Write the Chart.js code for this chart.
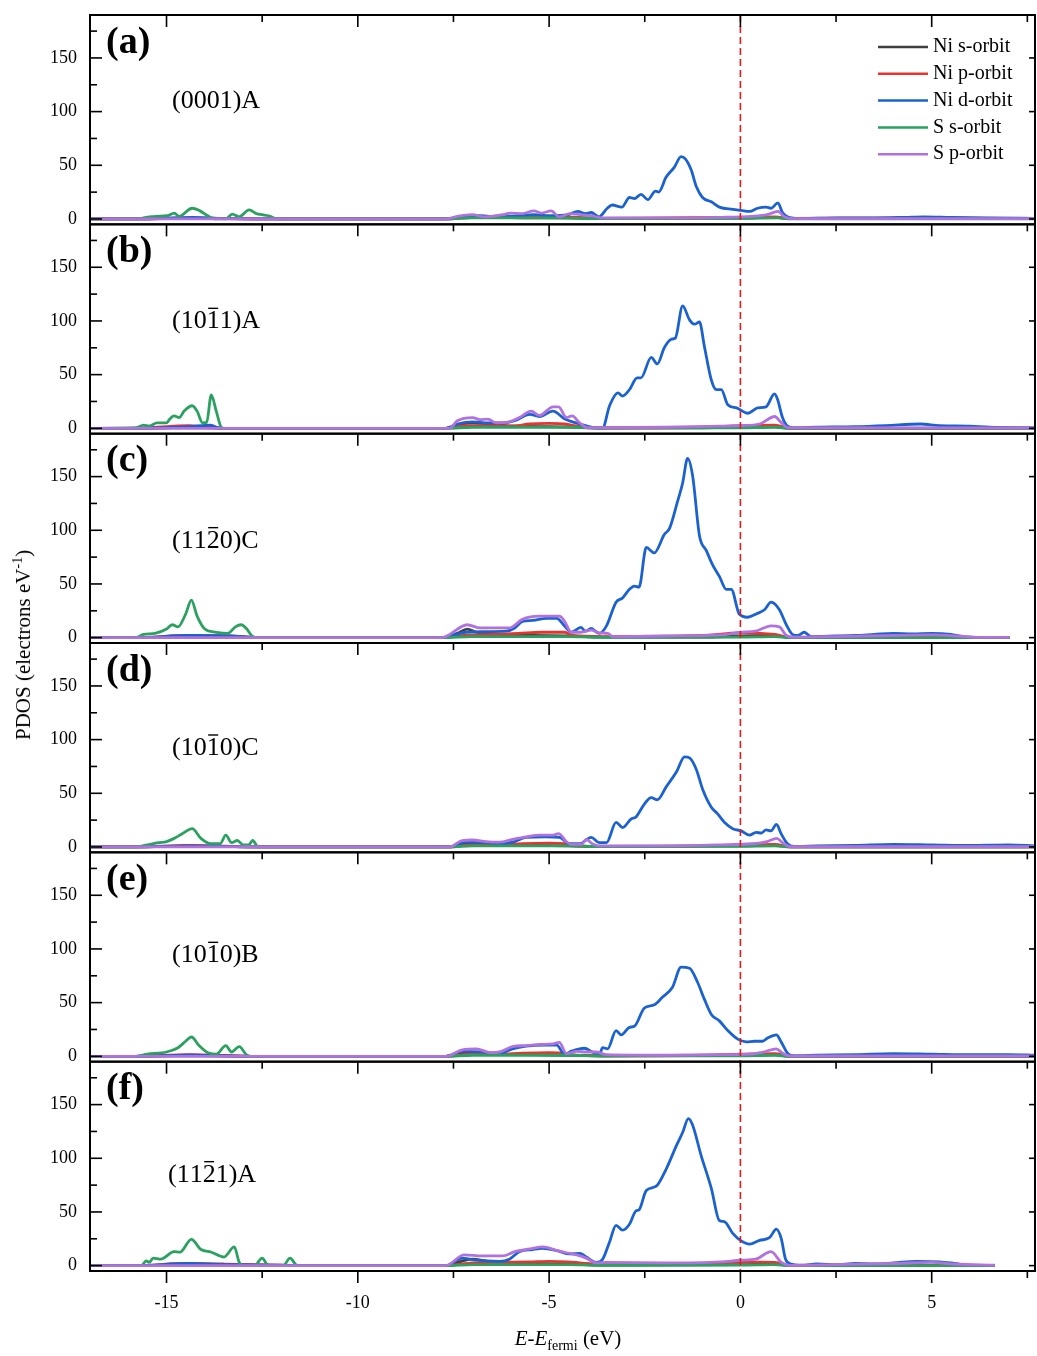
<!DOCTYPE html>
<html lang="en">
<head>
    <meta charset="UTF-8">
    <title>PDOS</title>
    <style>
        body {
            margin: 0;
            padding: 0;
            background-color: #ffffff;
        }

        .wrap {
            position: relative;
            width: 1037px;
            height: 1356px;
        }

        .axis-title {
            position: absolute;
            font-family: 'Liberation Serif', 'Times New Roman', serif;
            font-size: 21px;
            color: #000;
            white-space: nowrap;
        }

        #yTitle {
            left: 23px;
            top: 645px;
            transform: translate(-50%, -50%) rotate(-90deg);
        }

        #xTitle {
            left: 568px;
            top: 1340px;
            transform: translate(-50%, -50%);
        }

        .axis-title sub, .axis-title sup {
            font-size: 14px;
        }
    </style>
</head>
<body>
    <div class="wrap">
        <canvas id="pdos" width="1037" height="1356"></canvas>
        <div class="axis-title" id="yTitle">PDOS (electrons eV<sup>-1</sup>)</div>
        <div class="axis-title" id="xTitle"><i>E</i>-<i>E</i><sub>fermi</sub> (eV)</div>
    </div>

    <script src="https://cdn.jsdelivr.net/npm/chart.js"></script>
    <script>
        // eixos e legendas
        var seriesNames = ['Ni s-orbit', 'Ni p-orbit', 'Ni d-orbit', 'S s-orbit', 'S p-orbit'];
        var xMajor = [-15, -10, -5, 0, 5];
        var xMinor = [-12.5, -7.5, -2.5, 2.5, 7.5];
        var yMajor = [0, 50, 100, 150];
        var yMinor = [25, 75, 125, 175];

        // (a) (0001)A  -- pares [E, PDOS]
        var aNiS = [[-17,0],[-15.8,0],[-15,0.5],[-14.3,1],[-13.5,0.5],[-12.2,0],[-7.7,0],[-7.2,1.5],[-6.5,1.5],[-5.5,1],[-4.5,1],[-3.6,0.5],[-2,0.5],[0,0.8],[0.9,1.5],[1.3,0.3],[3,0.5],[5,0.8],[7.7,0.3]];
        var aNiP = [[-17,0],[-15.8,0],[-14.4,0.8],[-13.5,0.5],[-12.2,0],[-7.7,0],[-7,1.5],[-6,2],[-5,2],[-4.2,1.5],[-3.6,0.5],[-2,1],[0,1.5],[0.9,2],[1.3,0.5],[4,0.8],[7.7,0.3]];
        var aNiD = [[-17,0],[-15.8,0],[-15.2,0.5],[-14.3,1.5],[-13.7,0.5],[-12.2,0],[-7.7,0],[-7.3,2],[-6.8,3],[-6.3,2],[-5.8,3],[-5.4,4],[-5,3],[-4.5,4],[-4.25,7],[-4.05,5],[-3.9,6],[-3.7,2],[-3.48,10],[-3.35,13],[-3.1,11],[-2.9,20],[-2.77,19],[-2.6,23],[-2.42,18],[-2.22,26],[-2.14,25],[-1.94,39],[-1.73,48],[-1.55,58],[-1.44,56],[-1.29,46],[-1.15,30],[-0.99,20],[-0.76,16],[-0.55,11],[-0.2,9],[0.02,8],[0.24,7],[0.45,10],[0.67,11],[0.8,10],[0.98,15],[1.1,6],[1.33,1],[1.6,0.5],[2.5,1],[3.5,1],[4.3,1.5],[4.8,2],[5.5,1.5],[6.5,1],[7.7,0.5]];
        var aSS = [[-17,0],[-15.8,0],[-15.6,1],[-15.45,2],[-15.25,2.5],[-14.98,3],[-14.8,5.5],[-14.67,2.5],[-14.33,10],[-14.15,8],[-13.9,2.5],[-13.75,0],[-13.45,0],[-13.28,4.5],[-13.1,2],[-12.84,8.5],[-12.65,5],[-12.5,4],[-12.33,3],[-12.1,0],[-7.7,0],[-7,1],[-5,1],[-3.6,0.3],[0,0.5],[1,1],[1.3,0],[7.7,0]];
        var aSP = [[-17,0],[-7.7,0],[-7.4,2.5],[-7.0,4],[-6.7,2],[-6.4,3],[-6.2,4],[-6.0,5.5],[-5.7,5],[-5.4,7.5],[-5.2,5.5],[-4.95,7.5],[-4.73,2],[-4.45,5],[-4.2,4],[-3.9,3],[-3.6,1],[-2,1],[-0.5,1.5],[0.3,2.5],[0.7,4],[0.98,7],[1.15,2],[1.35,0.3],[7.7,0.3]];

        // (b) (10-11)A
        var bNiS = [[-17,0],[-15.8,0],[-14.5,1],[-13.7,0.5],[-13.5,0],[-7.7,0],[-7.3,4],[-7,5],[-6.6,4],[-6.3,3],[-5.8,2],[-5,1.5],[-4.2,1],[-3.8,0.3],[-1,0.5],[0,1],[0.9,1.5],[1.3,0],[7.7,0]];
        var bNiP = [[-17,0],[-15.8,0],[-14.4,2.5],[-14,1],[-13.6,0],[-7.7,0],[-7.2,2.5],[-6.5,2.5],[-6,2],[-5.5,4],[-5,4.5],[-4.6,4],[-4.2,1.5],[-3.8,0.5],[-1,1],[0,2.5],[0.9,3],[1.3,0],[7.7,0]];
        var bNiD = [[-17,0],[-15.8,0],[-15,0.5],[-14.4,1.5],[-13.85,3],[-13.6,0],[-7.7,0],[-7.4,4],[-7.0,6],[-6.6,5],[-6.2,5],[-5.9,7],[-5.5,13],[-5.25,11],[-4.9,16],[-4.6,9],[-4.3,5],[-4,2],[-3.75,0.5],[-3.6,0.5],[-3.42,21],[-3.2,33],[-3.08,30],[-2.9,36],[-2.7,47],[-2.6,47],[-2.33,66],[-2.17,60],[-1.99,75],[-1.8,83],[-1.7,84],[-1.51,114],[-1.33,101],[-1.2,97],[-1.07,99],[-0.94,76],[-0.76,45],[-0.63,36],[-0.5,36],[-0.33,22],[-0.1,19],[0.19,14],[0.45,19],[0.67,20],[0.89,32],[0.97,27],[1.1,10],[1.23,2],[1.4,0.5],[2,1],[3,1.5],[3.8,2.5],[4.7,4],[5.2,2.5],[6,2],[6.5,1],[7.7,0.5]];
        var bSS = [[-17,0],[-15.8,0.5],[-15.6,3],[-15.45,2],[-15.25,5],[-15.0,5],[-14.93,8],[-14.8,11.5],[-14.67,10],[-14.54,16],[-14.33,21],[-14.2,16],[-14.06,5],[-13.95,5.5],[-13.83,31],[-13.7,16],[-13.57,1],[-13.5,0],[-7.7,0],[-7,1],[-4.5,1],[-3.8,0.3],[0,0.5],[0.9,1],[1.3,0],[7.7,0]];
        var bSP = [[-17,0],[-7.6,0],[-7.4,7],[-7.0,10],[-6.8,8],[-6.6,8.5],[-6.38,5],[-6.04,6],[-5.78,10],[-5.47,16],[-5.25,12],[-4.9,20],[-4.75,20],[-4.55,10],[-4.4,11.5],[-4.2,5],[-4.0,0.5],[-2,1],[-0.5,2],[0,2.5],[0.5,4],[0.9,11],[1.05,6],[1.25,0.5],[7.7,0.3]];

        // (c) (11-20)C
        var cNiS = [[-17,0],[-15.8,0],[-14.4,1],[-13,0.5],[-12.6,0],[-7.8,0],[-7.4,4],[-7.14,8],[-6.9,5],[-6.5,3],[-5.5,2],[-4.5,1.5],[-3.6,0.5],[-1,0.5],[0,1.5],[0.9,2],[1.3,0],[7.03,0]];
        var cNiP = [[-17,0],[-15.8,0],[-14.4,2],[-13,1],[-12.6,0],[-7.8,0],[-7.2,2],[-6.5,3],[-5.8,4],[-5.2,5],[-4.6,5],[-4.4,2],[-3.6,1],[-1,2],[-0.3,4],[0,4.5],[0.9,3],[1.3,0],[7.03,0]];
        var cNiD = [[-17,0],[-15.8,0],[-14.4,2],[-13,1],[-12.6,0],[-7.8,0],[-7.17,5],[-6.7,5.5],[-6.12,6],[-5.9,9],[-5.7,15],[-5.43,16],[-5.07,18],[-4.8,18],[-4.6,11],[-4.42,5],[-4.17,9.5],[-4.05,6],[-3.9,8.5],[-3.69,4],[-3.5,11],[-3.25,33],[-3.08,37],[-2.9,45],[-2.77,48],[-2.65,47],[-2.46,84],[-2.25,79],[-1.99,96],[-1.85,102],[-1.65,126],[-1.51,144],[-1.38,167],[-1.25,151],[-1.07,95],[-0.89,81],[-0.73,68],[-0.55,57],[-0.37,45],[-0.24,45],[-0.03,22],[0.19,19],[0.41,22],[0.63,26],[0.8,33],[1.02,26],[1.2,12],[1.36,3],[1.5,2],[1.67,5],[1.85,1],[2.5,1.5],[3.0,2],[3.5,3],[4.0,4],[4.5,3.5],[5.0,4],[5.5,3],[5.8,1],[6.2,0.3],[7.03,0.3]];
        var cSS = [[-17,0],[-15.8,0],[-15.6,3],[-15.3,4],[-15.0,8],[-14.85,12],[-14.7,10],[-14.5,22],[-14.35,35],[-14.2,20],[-14.0,8],[-13.7,5],[-13.4,4],[-13.2,10],[-13.05,12],[-12.9,8],[-12.75,1],[-12.6,0],[-7.8,0],[-7,1],[-4.5,1],[-3.6,0.3],[0,0.5],[0.9,1],[1.3,0],[7.03,0]];
        var cSP = [[-17,0],[-7.8,0],[-7.14,12],[-6.8,9],[-6.04,9],[-5.7,17],[-5.25,20],[-4.73,20],[-4.6,15.5],[-4.42,5],[-4.17,5],[-3.9,7],[-3.69,4.5],[-3.47,4],[-3.33,1],[-2,1.5],[-0.5,2.5],[0,5],[0.4,6],[0.8,11],[1.02,10],[1.2,2],[1.4,0.5],[2.5,1],[4,2],[5,2.5],[5.7,1.5],[6.2,0.3],[7.03,0.3]];

        // (d) (10-10)C
        var dNiS = [[-17,0],[-15.8,0],[-14.4,1],[-12.6,0],[-7.6,0],[-7.2,3],[-6.8,3],[-6.3,2],[-5.5,1.5],[-4.5,1],[-3.6,0.5],[0,1],[0.9,1.5],[1.3,0],[7.7,0]];
        var dNiP = [[-17,0],[-15.8,0],[-14.4,1.5],[-12.6,0],[-7.6,0],[-7,2],[-6.3,2],[-5.7,3],[-5,3.5],[-4.6,3],[-4.3,1],[-3.6,0.5],[-1,1],[0,2],[0.9,2.5],[1.3,0],[7.7,0]];
        var dNiD = [[-17,0],[-15.8,0],[-14.4,1],[-13.5,0.5],[-12.6,0],[-7.6,0],[-7.17,4.5],[-6.6,4],[-6.3,3],[-5.9,5],[-5.6,9],[-5.1,9.5],[-4.73,9],[-4.47,3],[-4.2,3],[-3.9,9],[-3.69,4],[-3.5,4],[-3.25,23],[-3.08,18],[-2.86,26],[-2.73,28],[-2.51,40],[-2.33,46],[-2.17,44],[-1.94,56],[-1.67,70],[-1.46,84],[-1.33,83],[-1.15,72],[-0.99,54],[-0.76,37],[-0.6,31],[-0.42,23],[-0.2,17],[0.02,15],[0.24,11],[0.41,13.5],[0.55,13],[0.67,16],[0.8,15],[0.94,21],[1.07,12],[1.23,3],[1.4,0.5],[2,1],[3,1.5],[4,2.5],[5,2],[6,1.5],[7,2],[7.7,1]];
        var dSS = [[-17,0],[-15.8,0],[-15.5,2],[-15.2,4],[-15.0,5],[-14.8,8],[-14.6,12],[-14.33,17],[-14.1,8],[-13.85,3],[-13.6,3],[-13.45,11],[-13.3,4],[-13.15,6],[-13.0,2],[-12.85,2],[-12.75,6],[-12.6,0],[-7.6,0],[-7,1],[-4.5,1],[-3.6,0.3],[0,0.5],[0.9,1],[1.3,0],[7.7,0]];
        var dSP = [[-17,0],[-7.6,0],[-7.27,6],[-7.0,6.5],[-6.65,5],[-6.3,4.5],[-5.96,7],[-5.6,9.5],[-5.25,11],[-4.9,11],[-4.75,12.5],[-4.55,5],[-4.42,2.5],[-4.15,2.5],[-4.03,7],[-3.87,3],[-3.69,1],[-2,1],[-0.5,2],[0.3,3],[0.7,5],[0.95,8],[1.1,4],[1.3,0.3],[7.7,0.3]];

        // (e) (10-10)B
        var eNiS = [[-17,0],[-15.8,0],[-14.4,1],[-12.8,0],[-7.7,0],[-7.2,3],[-6.8,3],[-6.3,2],[-5.5,1.5],[-4.5,1],[-3.6,0.5],[0,1],[0.9,1.5],[1.3,0],[7.7,0]];
        var eNiP = [[-17,0],[-15.8,0],[-14.4,1.5],[-12.8,0],[-7.7,0],[-7,2],[-6.3,2],[-5.7,3],[-5,3.5],[-4.6,3],[-4.3,1],[-3.6,0.5],[-1,1],[0,2],[0.9,2.5],[1.3,0],[7.7,0]];
        var eNiD = [[-17,0],[-15.8,0],[-14.4,1],[-12.8,0],[-7.7,0],[-7.27,4.5],[-6.6,3.5],[-6.3,2.5],[-5.96,7],[-5.6,9.5],[-5.1,10.5],[-4.8,10.5],[-4.6,2],[-4.4,5],[-4.08,7.5],[-3.87,4],[-3.69,1.5],[-3.6,8],[-3.47,7],[-3.25,24],[-3.12,20],[-2.9,27],[-2.77,28],[-2.51,45],[-2.25,48],[-2.04,55],[-1.78,64],[-1.55,83],[-1.33,82],[-1.12,69],[-0.94,53],[-0.76,39],[-0.55,33],[-0.33,24],[-0.07,16],[0.15,13.5],[0.37,14],[0.58,14],[0.71,17],[0.94,20],[1.07,13],[1.23,3],[1.4,0.5],[2,1],[3,1.5],[4,2.5],[5,2],[6,1.5],[7,1.5],[7.7,1]];
        var eSS = [[-17,0],[-15.8,0],[-15.5,2],[-15.0,4],[-14.7,8],[-14.5,14],[-14.35,18],[-14.15,10],[-13.9,3],[-13.7,2],[-13.45,10],[-13.3,4],[-13.1,9],[-12.9,1],[-12.8,0],[-7.7,0],[-7,1],[-4.5,1],[-3.6,0.3],[0,0.5],[0.9,1],[1.3,0],[7.7,0]];
        var eSP = [[-17,0],[-7.7,0],[-7.27,6],[-6.9,7],[-6.55,3.5],[-6.3,4],[-5.96,9],[-5.6,10],[-5.25,11],[-4.9,11.5],[-4.73,13],[-4.55,2.5],[-4.28,4.5],[-4.03,4],[-3.77,4],[-3.5,1.5],[-2,1],[-0.5,1.5],[0.2,2],[0.6,4],[0.94,7],[1.1,3],[1.3,0.3],[7.7,0.3]];

        // (f) (11-21)A
        var fNiS = [[-17,0],[-15.8,0],[-14.4,1],[-11.5,0],[-7.7,0],[-7.3,4],[-7.0,6],[-6.6,4],[-6.2,3],[-5.5,2],[-4.5,1.5],[-3.6,0.5],[0,1],[0.9,1.5],[1.3,0],[6.65,0]];
        var fNiP = [[-17,0],[-15.8,0],[-14.5,2],[-13.5,1.5],[-12,0.5],[-11.5,0],[-7.7,0],[-7,2.5],[-6.3,3],[-5.5,3.5],[-5,4],[-4.5,3.5],[-4,2],[-3.6,1],[-1,2],[0,3.5],[0.9,3],[1.3,0],[6.65,0]];
        var fNiD = [[-17,0],[-15.8,0],[-14.4,2],[-13.3,1],[-12,0.5],[-11.5,0],[-7.7,0],[-7.27,7],[-7.0,5.5],[-6.3,4],[-6.04,6],[-5.78,13],[-5.43,15],[-5.17,16],[-4.8,14],[-4.47,11],[-4.2,11.5],[-4.03,8],[-3.77,3],[-3.6,6],[-3.42,22],[-3.25,37.5],[-3.08,33],[-2.9,38.5],[-2.73,51],[-2.65,52],[-2.46,70],[-2.2,74],[-1.94,90],[-1.67,112],[-1.51,124],[-1.36,137],[-1.25,131],[-1.03,103],[-0.76,72],[-0.55,42],[-0.42,41],[-0.2,30],[0.02,23],[0.24,20],[0.5,23.5],[0.76,26],[0.94,34],[1.07,25],[1.18,6],[1.33,1.5],[1.6,0.5],[2,1.5],[2.5,1],[3,2],[3.5,1.5],[4,2.5],[4.6,4],[5.2,3.5],[5.6,2],[6,0.3],[6.65,0.3]];
        var fSS = [[-17,0],[-15.66,0],[-15.53,4.5],[-15.45,3],[-15.35,7],[-15.15,6],[-14.8,13],[-14.65,12.5],[-14.35,24.5],[-14.1,15],[-13.83,12.5],[-13.5,8],[-13.23,17.5],[-13.1,3],[-13.0,0],[-12.7,0],[-12.5,7],[-12.35,0.5],[-11.95,0],[-11.77,7],[-11.6,0.5],[-11.4,0],[-7.7,0],[-7,1],[-4.5,1],[-3.6,0.3],[0,0.5],[0.9,1],[1.3,0],[6.65,0]];
        var fSP = [[-17,0],[-7.7,0],[-7.22,10],[-6.75,9],[-6.22,9],[-5.9,13],[-5.5,15.5],[-5.17,17.5],[-4.78,14],[-4.55,12],[-4.28,10],[-4.03,7],[-3.77,2.5],[-3.5,3],[-2,2.5],[-0.5,3.5],[0,5],[0.4,6],[0.8,13],[1.07,3],[1.3,0.3],[2.5,1],[4,2],[5,3],[5.6,1.5],[6.65,0.5]];

        // cores das curvas
        var colors = ['#404040', '#e8332e', '#1b62d0', '#2ba160', '#b172e0'];

        // paineis, de cima para baixo (\u0305 = barra sobre o digito anterior)
        var panels = [
            { id: 'ya', letter: '(a)', facet: '(0001)A', facetX: 172, facetDy: 93, series: [aNiS, aNiP, aNiD, aSS, aSP] },
            { id: 'yb', letter: '(b)', facet: '(101\u03051)A', facetX: 172, facetDy: 104, series: [bNiS, bNiP, bNiD, bSS, bSP] },
            { id: 'yc', letter: '(c)', facet: '(112\u03050)C', facetX: 172, facetDy: 114, series: [cNiS, cNiP, cNiD, cSS, cSP] },
            { id: 'yd', letter: '(d)', facet: '(101\u03050)C', facetX: 172, facetDy: 112, series: [dNiS, dNiP, dNiD, dSS, dSP] },
            { id: 'ye', letter: '(e)', facet: '(101\u03050)B', facetX: 172, facetDy: 110, series: [eNiS, eNiP, eNiD, eSS, eSP] },
            { id: 'yf', letter: '(f)', facet: '(112\u03051)A', facetX: 168, facetDy: 120, series: [fNiS, fNiP, fNiD, fSS, fSP] }
        ];

        var serif = "'Liberation Serif', 'Times New Roman', serif";
        Chart.defaults.font.family = serif;
        Chart.defaults.color = '#000';

        var datasets = [];
        panels.forEach(function(p) {
            p.series.forEach(function(s, k) {
                datasets.push({
                    label: seriesNames[k],
                    data: s,
                    yAxisID: p.id,
                    borderColor: colors[k],
                    backgroundColor: colors[k],
                    borderWidth: 2.8,
                    pointRadius: 0,
                    cubicInterpolationMode: 'monotone',
                    order: 4 - k
                });
            });
        });

        // eixos y empilhados (o ultimo definido fica no topo)
        var scales = {
            x: {
                type: 'linear',
                position: 'bottom',
                min: -17,
                max: 7.7,
                grid: { display: false, drawTicks: false },
                border: { display: false },
                ticks: { font: { size: 18 }, padding: 21, color: '#000' },
                afterBuildTicks: function(s) { s.ticks = xMajor.map(function(v) { return { value: v }; }); },
                afterFit: function(s) { s.height = 85; s.paddingLeft = 0; s.paddingRight = 0; }
            }
        };
        panels.slice().reverse().forEach(function(p) {
            scales[p.id] = {
                type: 'linear',
                position: 'left',
                stack: 'pdos',
                stackWeight: 1,
                min: -5,
                max: 190,
                grid: { display: false, drawTicks: false },
                border: { display: false },
                ticks: { font: { size: 18 }, padding: 13, color: '#000' },
                afterBuildTicks: function(s) { s.ticks = yMajor.map(function(v) { return { value: v }; }); },
                afterFit: function(s) { s.width = 90; s.paddingTop = 0; s.paddingBottom = 0; }
            };
        });

        function line(ctx, x1, y1, x2, y2) {
            ctx.beginPath();
            ctx.moveTo(x1, y1);
            ctx.lineTo(x2, y2);
            ctx.stroke();
        }

        // texto com barra sobre o digito (notacao de Miller-Bravais)
        function drawFacet(ctx, str, x, y) {
            var cx = x;
            for (var i = 0; i < str.length; i++) {
                var ch = str[i];
                if (ch === '\u0305') continue;
                var w = ctx.measureText(ch).width;
                ctx.fillText(ch, cx, y);
                if (str[i + 1] === '\u0305') {
                    ctx.lineWidth = 1.4;
                    line(ctx, cx + 1.5, y - 20, cx + w - 1.5, y - 20);
                }
                cx += w;
            }
        }

        var framePlugin = {
            id: 'frames',
            afterDatasetsDraw: function(chart) {
                var ctx = chart.ctx;
                var area = chart.chartArea;
                var xs = chart.scales.x;
                ctx.save();

                // linha do nivel de Fermi
                ctx.strokeStyle = '#e01b1b';
                ctx.lineWidth = 1.6;
                ctx.setLineDash([7, 4]);
                var x0 = xs.getPixelForValue(0);
                line(ctx, x0, area.top, x0, area.bottom);
                ctx.setLineDash([]);

                ctx.strokeStyle = '#000';
                panels.forEach(function(p, i) {
                    var ys = chart.scales[p.id];
                    ctx.lineWidth = 2;
                    ctx.strokeRect(area.left, ys.top, area.right - area.left, ys.bottom - ys.top);
                    ctx.lineWidth = 1.6;
                    xMajor.forEach(function(v) {
                        var px = xs.getPixelForValue(v);
                        line(ctx, px, ys.top, px, ys.top + 12);
                    });
                    xMinor.forEach(function(v) {
                        var px = xs.getPixelForValue(v);
                        line(ctx, px, ys.top, px, ys.top + 7);
                    });
                    yMajor.forEach(function(v) {
                        var py = ys.getPixelForValue(v);
                        line(ctx, area.left, py, area.left + 12, py);
                        line(ctx, area.right, py, area.right - 6, py);
                    });
                    yMinor.forEach(function(v) {
                        var py = ys.getPixelForValue(v);
                        line(ctx, area.left, py, area.left + 7, py);
                    });
                    if (i === panels.length - 1) {
                        xMajor.forEach(function(v) {
                            var px = xs.getPixelForValue(v);
                            line(ctx, px, ys.bottom, px, ys.bottom + 12);
                        });
                        xMinor.forEach(function(v) {
                            var px = xs.getPixelForValue(v);
                            line(ctx, px, ys.bottom, px, ys.bottom + 7);
                        });
                    }
                });
                ctx.restore();
            },
            afterDraw: function(chart) {
                var ctx = chart.ctx;
                ctx.save();
                ctx.fillStyle = '#000';
                ctx.strokeStyle = '#000';
                panels.forEach(function(p) {
                    var ys = chart.scales[p.id];
                    ctx.font = 'bold 38px ' + serif;
                    ctx.textBaseline = 'middle';
                    ctx.textAlign = 'left';
                    ctx.fillText(p.letter, 106, ys.top + 28);
                    ctx.font = '26px ' + serif;
                    ctx.textBaseline = 'alphabetic';
                    drawFacet(ctx, p.facet, p.facetX, ys.top + p.facetDy);
                });

                // legenda no painel (a)
                var top = chart.scales[panels[0].id].top;
                ctx.font = '20px ' + serif;
                ctx.textBaseline = 'middle';
                seriesNames.forEach(function(name, k) {
                    var y = top + 32 + k * 26.8;
                    ctx.strokeStyle = colors[k];
                    ctx.lineWidth = 2.5;
                    line(ctx, 878, y, 928, y);
                    ctx.fillText(name, 933, y);
                });
                ctx.restore();
            }
        };

        new Chart(document.getElementById('pdos').getContext('2d'), {
            type: 'line',
            data: { datasets: datasets },
            options: {
                responsive: false,
                animation: false,
                events: [],
                layout: { padding: { top: 15, right: 2, left: 0, bottom: 0 } },
                plugins: {
                    legend: { display: false },
                    tooltip: { enabled: false }
                },
                scales: scales
            },
            plugins: [framePlugin]
        });
    </script>
</body>
</html>
